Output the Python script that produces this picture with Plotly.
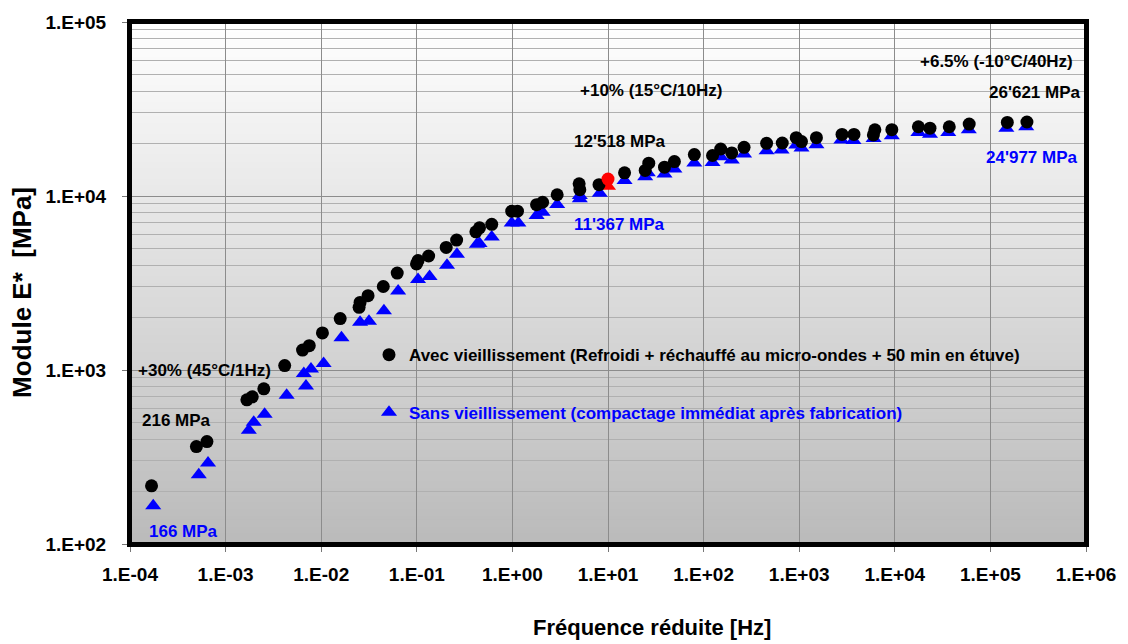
import plotly.graph_objects as go

# --- Master curves: reduced frequency [Hz] vs complex modulus E* [MPa] ---
# Aged mix (cooled + microwave reheated + 50 min in oven)
freq_avec = [1.68e-4, 4.95e-4, 6.38e-4, 1.67e-3, 1.90e-3, 2.51e-3, 4.15e-3, 6.38e-3,
             7.50e-3, 1.03e-2, 1.58e-2, 2.49e-2, 2.55e-2, 3.09e-2, 4.46e-2, 6.24e-2,
             9.93e-2, 0.103, 0.133, 0.203, 0.261, 0.415, 0.453, 0.608, 0.984, 1.13,
             1.79, 2.07, 2.94, 5.07, 4.99, 8.05, 14.9, 24.5, 26.7, 39.0, 49.5, 80.0,
             124, 151, 197, 265, 456, 665, 931, 1057, 1514, 2805, 3740, 5970, 6190,
             9310, 17650, 23330, 37150, 60000, 150300, 241000]
mod_avec = [216, 363, 388, 674, 701, 779, 1061, 1301,
            1380, 1634, 1974, 2291, 2446, 2673, 3020, 3606,
            4070, 4253, 4521, 5064, 5583, 6228, 6563, 6873, 8180, 8180,
            8916, 9204, 10170, 10870, 11750, 11610, 13590, 14020, 15440, 14650, 15780, 17310,
            17090, 18630, 17680, 19050, 20090, 20170, 21650, 20540, 21650, 22600, 22600, 22450, 23990,
            24040, 25010, 24550, 25010, 25890, 26470, 26621]

# Unaged mix (compacted right after production)
freq_sans = [1.75e-4, 5.24e-4, 6.55e-4, 1.75e-3, 1.97e-3, 2.56e-3, 4.35e-3, 6.58e-3,
             6.93e-3, 7.82e-3, 1.06e-2, 1.63e-2, 2.55e-2, 3.16e-2, 4.53e-2, 6.38e-2,
             0.103, 0.136, 0.207, 0.263, 0.425, 0.453, 0.608, 0.984, 1.155,
             1.79, 2.07, 2.94, 5.07, 5.07, 8.20, 14.9, 24.5, 26.1, 39.0, 49.5, 80.0,
             124, 151, 197, 265, 456, 654, 931, 1057, 1514, 2760, 3698, 6000,
             9310, 17650, 23330, 36240, 59430, 146800, 237000]
mod_sans = [166, 250, 292, 451, 501, 557, 715, 955,
            810, 1013, 1089, 1534, 1880, 1905, 2188, 2847,
            3311, 3444, 4005, 4632, 5284, 5330, 5817, 6994, 6994,
            7737, 8078, 8940, 9640, 10060, 10380, 12270, 12920, 13620, 13390, 14300, 15480,
            15600, 16810, 16100, 17420, 18190, 18360, 19620, 18850, 19690, 20950, 20840, 21390,
            22180, 23160, 22670, 23160, 23990, 24530, 24977]

# Reference point at 15°C / 10 Hz
ref_freq = [10]
ref_mod_avec = [12518]
ref_mod_sans = [11367]

x_tick_vals = [1e-4, 1e-3, 1e-2, 1e-1, 1e0, 1e1, 1e2, 1e3, 1e4, 1e5, 1e6]
x_tick_text = ["1.E-04", "1.E-03", "1.E-02", "1.E-01", "1.E+00", "1.E+01",
               "1.E+02", "1.E+03", "1.E+04", "1.E+05", "1.E+06"]
y_tick_vals = [1e2, 1e3, 1e4, 1e5]
y_tick_text = ["1.E+02", "1.E+03", "1.E+04", "1.E+05"]
y_minor_vals = [m * d for d in (100, 1000, 10000) for m in range(2, 10)]

label_avec = "Avec vieillissement (Refroidi + réchauffé au micro-ondes + 50 min en étuve)"
label_sans = "Sans vieillissement (compactage immédiat après fabrication)"

FONT = "Liberation Sans, Arial, Helvetica, sans-serif"
BLUE = "#0000ff"

fig = go.Figure()

fig.add_trace(go.Scatter(
    x=freq_sans, y=mod_sans, mode="markers", name=label_sans, legend="legend2",
    marker=dict(symbol="triangle-up", size=14, color=BLUE, line=dict(width=0)),
))
fig.add_trace(go.Scatter(
    x=ref_freq, y=ref_mod_sans, mode="markers", showlegend=False,
    marker=dict(symbol="triangle-up", size=14, color="#ff0000", line=dict(width=0)),
))
fig.add_trace(go.Scatter(
    x=freq_avec, y=mod_avec, mode="markers", name=label_avec, legend="legend",
    marker=dict(symbol="circle", size=13, color="black", line=dict(width=0)),
))
fig.add_trace(go.Scatter(
    x=ref_freq, y=ref_mod_avec, mode="markers", showlegend=False,
    marker=dict(symbol="circle", size=13, color="#ff0000", line=dict(width=0)),
))

# Vertical white-to-grey gradient behind the grid
n_bands = 150
top_rgb, bot_rgb = 255, 186
for i in range(n_bands):
    t = (i + 0.5) / n_bands
    g = round(bot_rgb + (top_rgb - bot_rgb) * t)
    fig.add_shape(type="rect", xref="paper", yref="paper", layer="below",
                  x0=0, x1=1, y0=i / n_bands, y1=min(1, (i + 1) / n_bands + 0.002),
                  fillcolor=f"rgb({g},{g},{g})", line=dict(width=0))

# Heavy black frame around the plotting area
fig.add_shape(type="rect", xref="paper", yref="paper", layer="above",
              x0=0, x1=1, y0=0, y1=1, line=dict(color="black", width=4),
              fillcolor="rgba(0,0,0,0)")

def px_to_paper(px, py):
    return (px - 130) / 960, (544 - py) / 525

def note(text, px, py, color="black"):
    xp, yp = px_to_paper(px, py)
    fig.add_annotation(text=text, x=xp, y=yp, xref="paper", yref="paper",
                       showarrow=False, xanchor="center", yanchor="middle",
                       font=dict(family=FONT, size=17, color=color, weight="bold"))

note("+6.5% (-10°C/40Hz)", 1000, 59)
note("26'621 MPa", 1039, 90)
note("24'977 MPa", 1036, 155, BLUE)
note("+10% (15°C/10Hz)", 653, 88)
note("12'518 MPa", 622, 139)
note("11'367 MPa", 622, 223, BLUE)
note("+30% (45°C/1Hz)", 205, 370)
note("216 MPa", 177, 420)
note("166 MPa", 184, 531, BLUE)

# Axis titles
fig.add_annotation(text="Fréquence réduite [Hz]", x=(654 - 130) / 960, y=(544 - 628) / 525,
                   xref="paper", yref="paper", showarrow=False,
                   xanchor="center", yanchor="middle",
                   font=dict(family=FONT, size=22, color="black", weight="bold"))
fig.add_annotation(text="Module E*  [MPa]", x=(22 - 130) / 960, y=(544 - 291) / 525,
                   xref="paper", yref="paper", showarrow=False, textangle=-90,
                   xanchor="center", yanchor="middle",
                   font=dict(family=FONT, size=26, color="black", weight="bold"))

axis_common = dict(
    type="log", showline=True, linecolor="black", linewidth=3, mirror=True,
    ticks="outside", ticklen=5, tickcolor="#777777", tickwidth=1,
    showgrid=True, gridcolor="#8c8c8c", gridwidth=1, zeroline=False,
    tickfont=dict(family=FONT, size=19, color="black", weight="bold"),
)

fig.update_xaxes(range=[-4, 6], tickvals=x_tick_vals, ticktext=x_tick_text,
                 ticklabelstandoff=6, **axis_common)
fig.update_yaxes(range=[2, 5], tickvals=y_tick_vals, ticktext=y_tick_text,
                 ticklabelstandoff=12,
                 minor=dict(tickvals=y_minor_vals, showgrid=True,
                            gridcolor="#b0b0b0", gridwidth=1, ticks=""),
                 **axis_common)

legend_common = dict(xanchor="left", yanchor="middle", bgcolor="rgba(0,0,0,0)",
                     borderwidth=0, itemwidth=30, tracegroupgap=0)
lx, _ = px_to_paper(370, 0)
fig.update_layout(
    width=1128, height=644,
    margin=dict(l=130, r=38, t=19, b=100),
    paper_bgcolor="white", plot_bgcolor="white",
    showlegend=True,
    legend=dict(x=lx, y=px_to_paper(0, 354)[1],
                font=dict(family=FONT, size=17, color="black", weight="bold"),
                **legend_common),
    legend2=dict(x=lx, y=px_to_paper(0, 412)[1],
                 font=dict(family=FONT, size=17, color=BLUE, weight="bold"),
                 **legend_common),
)

fig.write_html("out.html")
